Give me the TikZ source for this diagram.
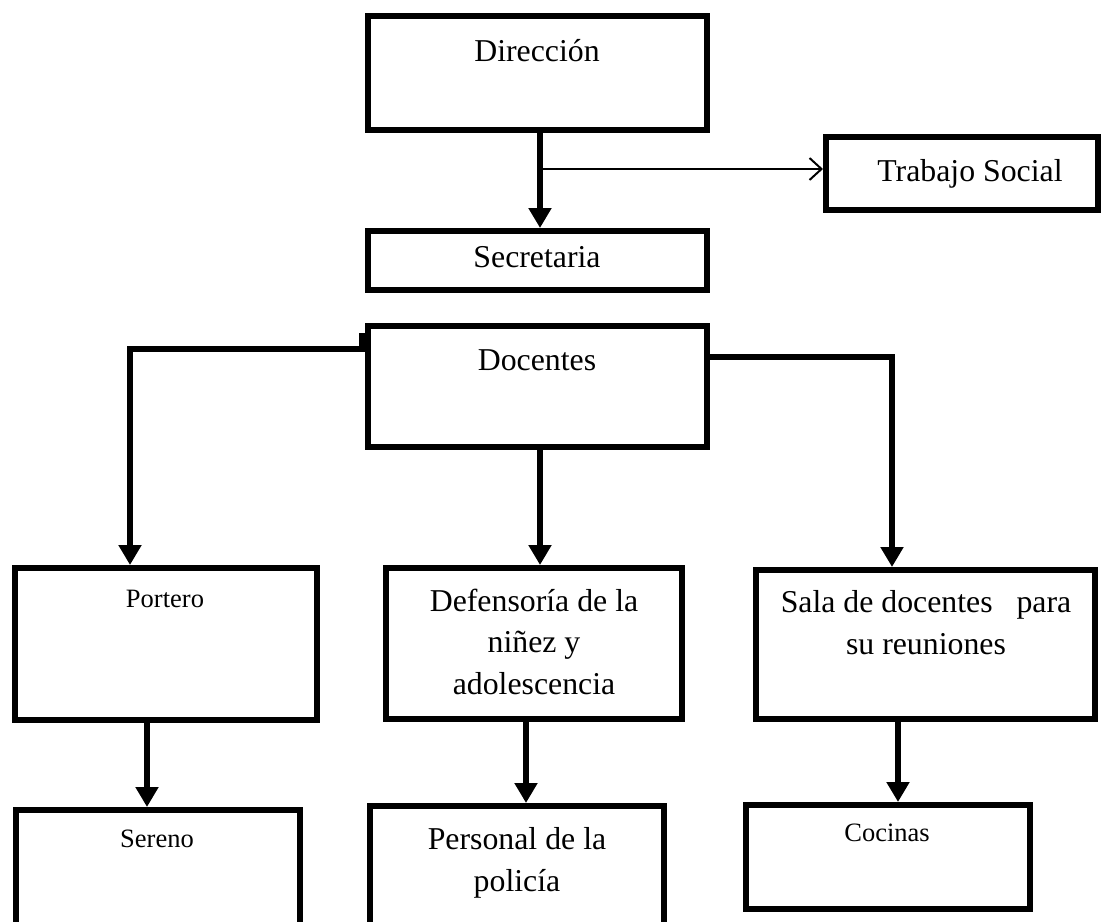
\documentclass[tikz,border=0pt]{standalone}
\usepackage{fontspec}
\setmainfont{Liberation Serif}
\usetikzlibrary{arrows.meta,calc}
\tikzset{
  box/.style={draw, line width=6pt, rectangle, inner sep=0pt},
  bigtxt/.style={font=\fontsize{31.8}{41.5}\selectfont, align=center, inner sep=0pt, anchor=base},
  smalltxt/.style={font=\fontsize{26.5}{34}\selectfont, align=center, inner sep=0pt, anchor=base},
  arr/.style={line width=5.5pt, -{Triangle[length=20pt,width=22pt]}},
  thinarr/.style={line width=2pt, -{Straight Barb[length=12pt,width=22pt,line width=2pt]}}
}
\begin{document}
\begin{tikzpicture}[x=1pt,y=-1pt]
\clip (0,0) rectangle (1102,921);
\fill[white] (0,0) rectangle (1102,921);
% boxes
\node[box, minimum width=339pt, minimum height=114pt] (dir) at (537.5,73) {};
\node[box, minimum width=272pt, minimum height=73pt] (ts) at (962,173.5) {};
\node[box, minimum width=339pt, minimum height=59pt] (sec) at (537.5,260.5) {};
\node[box, minimum width=339pt, minimum height=121pt] (doc) at (537.5,386.5) {};
\node[box, minimum width=302pt, minimum height=152pt] (por) at (166,644) {};
\node[box, minimum width=296pt, minimum height=151pt] (def) at (534,643.5) {};
\node[box, minimum width=339pt, minimum height=149pt] (sala) at (925.5,644.5) {};
\node[box, minimum width=284pt, minimum height=127pt] (ser) at (158,873.5) {};
\node[box, minimum width=294pt, minimum height=131pt] (per) at (517,871.5) {};
\node[box, minimum width=284pt, minimum height=104pt] (coc) at (888,857) {};
% texts
\node[bigtxt] (tdir) at (537,61) {Dirección};
\node[bigtxt] (tts) at (970,181) {Trabajo Social};
\node[bigtxt] (tsec) at (537,267) {Secretaria};
\node[bigtxt] (tdoc) at (537,370) {Docentes};
\node[smalltxt] (tpor) at (165,607) {Portero};
\node[bigtxt] (tdef) at (534,694) {Defensoría de la\\niñez y\\adolescencia};
\node[bigtxt] (tsala) at (926,654) {Sala de docentes\ \ \ para\\su reuniones};
\node[smalltxt] (tser) at (157,847) {Sereno};
\node[bigtxt] (tper) at (517,891) {Personal de la\\policía};
\node[smalltxt] (tcoc) at (887,841) {Cocinas};
% connectors
\coordinate (j) at (540,169);
\draw[arr] ([xshift=2.5pt]dir.south) -- ([xshift=2.5pt]sec.north);
\draw[thinarr] (j) -- (j -| ts.west);
\fill (359,333) rectangle (367,350);
\draw[arr] ([yshift=37.5pt]doc.west) -| ([xshift=-36pt]por.north);
\draw[arr] ([yshift=29.5pt]doc.east) -| ([xshift=-33.5pt]sala.north);
\draw[arr] ([xshift=2.5pt]doc.south) -- ([xshift=2.5pt]doc.south |- def.north);
\draw[arr] ([xshift=-19pt]por.south) -- ([xshift=-19pt]por.south |- ser.north);
\draw[arr] ([xshift=-8pt]def.south) -- ([xshift=-8pt]def.south |- per.north);
\draw[arr] ([xshift=-27.5pt]sala.south) -- ([xshift=-27.5pt]sala.south |- coc.north);
\end{tikzpicture}
\end{document}
